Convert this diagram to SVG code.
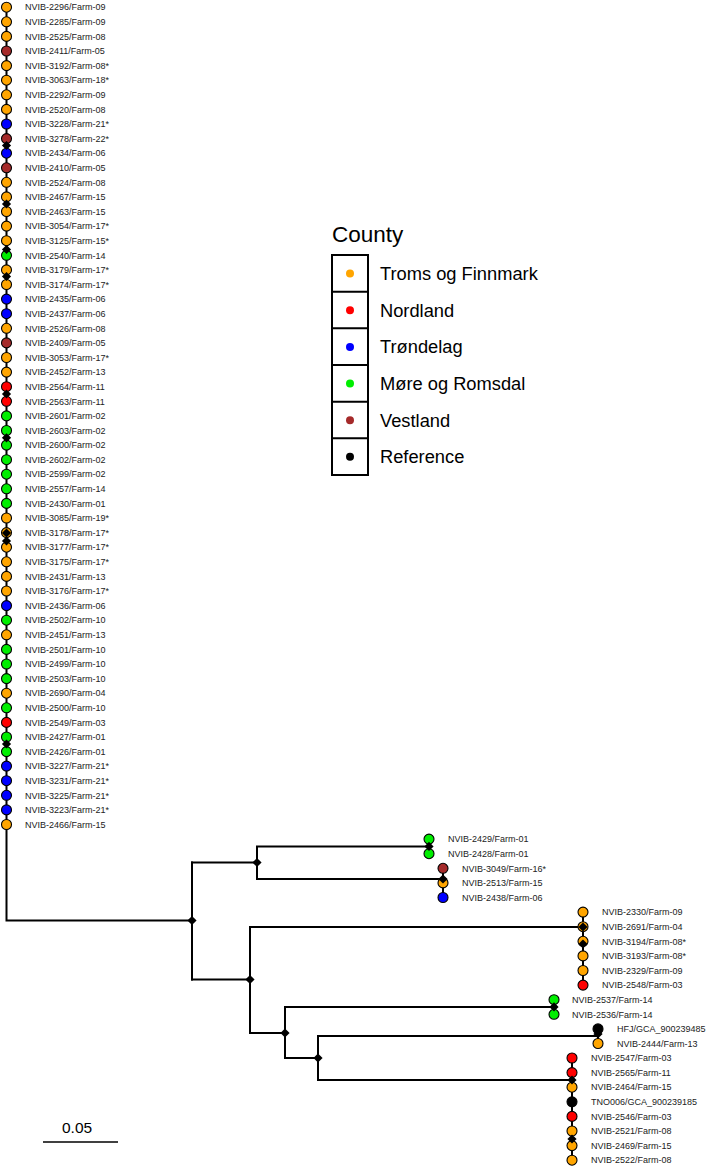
<svg xmlns="http://www.w3.org/2000/svg" xmlns:xlink="http://www.w3.org/1999/xlink" width="709" height="1167" viewBox="0 0 709 1167">
<style>
.br{stroke:#000;stroke-width:2;fill:none;stroke-linecap:square}
.lf{stroke:#000;stroke-width:1.1}
.o{fill:#FFA500}.r{fill:#FF0000}.b{fill:#0000FF}.g{fill:#00EE00}.v{fill:#A52A2A}.k{fill:#000}
.t{font-family:"Liberation Sans",Arial,sans-serif;font-size:9px;fill:#222}
.lg{font-family:"Liberation Sans",Arial,sans-serif;font-size:18.3px;fill:#000}
.ttl{font-family:"Liberation Sans",Arial,sans-serif;font-size:22.5px;fill:#000}
.dm{fill:#000}
</style>
<defs>
<path id="dm" d="M0,-4.6L4.6,0L0,4.6L-4.6,0Z"/>
</defs>
<g id="connectors">
<path class="br" d="M6.5,7.2V920.5H192"/>
<path class="br" d="M192,862.5V979.5"/>
<path class="br" d="M192,862.5H257M257,846.4V879H443M257,846.4H429"/>
<path class="br" d="M192,979.5H250M250,927V1033H285M250,927H583"/>
<path class="br" d="M285,1006.9V1058H318M285,1006.9H554"/>
<path class="br" d="M318,1036V1080H572M318,1036H598"/>
<path class="br" d="M429,839.1V853.7M443,868.3V897.5M583,912.1V985.1M554,999.7V1014.3M598,1028.9V1043.5M572,1058V1160.2"/>
</g>
<g id="internal-nodes">
<use xlink:href="#dm" x="192" y="920.5"/>
<use xlink:href="#dm" x="257" y="862.5"/>
<use xlink:href="#dm" x="250" y="979.5"/>
<use xlink:href="#dm" x="285" y="1033"/>
<use xlink:href="#dm" x="318" y="1058"/>
</g>
<g id="leaves-left">
<g id="n0"><circle class="lf o" cx="6.5" cy="7.2" r="5"/><text class="t" x="25" y="10.4">NVIB-2296/Farm-09</text></g>
<g id="n1"><circle class="lf o" cx="6.5" cy="21.8" r="5"/><text class="t" x="25" y="25">NVIB-2285/Farm-09</text></g>
<g id="n2"><circle class="lf o" cx="6.5" cy="36.4" r="5"/><text class="t" x="25" y="39.6">NVIB-2525/Farm-08</text></g>
<g id="n3"><circle class="lf v" cx="6.5" cy="51" r="5"/><text class="t" x="25" y="54.2">NVIB-2411/Farm-05</text></g>
<g id="n4"><circle class="lf o" cx="6.5" cy="65.6" r="5"/><text class="t" x="25" y="68.8">NVIB-3192/Farm-08*</text></g>
<g id="n5"><circle class="lf o" cx="6.5" cy="80.2" r="5"/><text class="t" x="25" y="83.4">NVIB-3063/Farm-18*</text></g>
<g id="n6"><circle class="lf o" cx="6.5" cy="94.8" r="5"/><text class="t" x="25" y="98">NVIB-2292/Farm-09</text></g>
<g id="n7"><circle class="lf o" cx="6.5" cy="109.4" r="5"/><text class="t" x="25" y="112.6">NVIB-2520/Farm-08</text></g>
<g id="n8"><circle class="lf b" cx="6.5" cy="124" r="5"/><text class="t" x="25" y="127.2">NVIB-3228/Farm-21*</text></g>
<g id="n9"><circle class="lf v" cx="6.5" cy="138.6" r="5"/><text class="t" x="25" y="141.8">NVIB-3278/Farm-22*</text></g>
<g id="n10"><circle class="lf b" cx="6.5" cy="153.2" r="5"/><text class="t" x="25" y="156.4">NVIB-2434/Farm-06</text></g>
<g id="n11"><circle class="lf v" cx="6.5" cy="167.8" r="5"/><text class="t" x="25" y="171">NVIB-2410/Farm-05</text></g>
<g id="n12"><circle class="lf o" cx="6.5" cy="182.3" r="5"/><text class="t" x="25" y="185.5">NVIB-2524/Farm-08</text></g>
<g id="n13"><circle class="lf o" cx="6.5" cy="196.9" r="5"/><text class="t" x="25" y="200.1">NVIB-2467/Farm-15</text></g>
<g id="n14"><circle class="lf o" cx="6.5" cy="211.5" r="5"/><text class="t" x="25" y="214.7">NVIB-2463/Farm-15</text></g>
<g id="n15"><circle class="lf o" cx="6.5" cy="226.1" r="5"/><text class="t" x="25" y="229.3">NVIB-3054/Farm-17*</text></g>
<g id="n16"><circle class="lf o" cx="6.5" cy="240.7" r="5"/><text class="t" x="25" y="243.9">NVIB-3125/Farm-15*</text></g>
<g id="n17"><circle class="lf g" cx="6.5" cy="255.3" r="5"/><text class="t" x="25" y="258.5">NVIB-2540/Farm-14</text></g>
<g id="n18"><circle class="lf o" cx="6.5" cy="269.9" r="5"/><text class="t" x="25" y="273.1">NVIB-3179/Farm-17*</text></g>
<g id="n19"><circle class="lf o" cx="6.5" cy="284.5" r="5"/><text class="t" x="25" y="287.7">NVIB-3174/Farm-17*</text></g>
<g id="n20"><circle class="lf b" cx="6.5" cy="299.1" r="5"/><text class="t" x="25" y="302.3">NVIB-2435/Farm-06</text></g>
<g id="n21"><circle class="lf b" cx="6.5" cy="313.7" r="5"/><text class="t" x="25" y="316.9">NVIB-2437/Farm-06</text></g>
<g id="n22"><circle class="lf o" cx="6.5" cy="328.3" r="5"/><text class="t" x="25" y="331.5">NVIB-2526/Farm-08</text></g>
<g id="n23"><circle class="lf v" cx="6.5" cy="342.9" r="5"/><text class="t" x="25" y="346.1">NVIB-2409/Farm-05</text></g>
<g id="n24"><circle class="lf o" cx="6.5" cy="357.5" r="5"/><text class="t" x="25" y="360.7">NVIB-3053/Farm-17*</text></g>
<g id="n25"><circle class="lf o" cx="6.5" cy="372.1" r="5"/><text class="t" x="25" y="375.3">NVIB-2452/Farm-13</text></g>
<g id="n26"><circle class="lf r" cx="6.5" cy="386.7" r="5"/><text class="t" x="25" y="389.9">NVIB-2564/Farm-11</text></g>
<g id="n27"><circle class="lf r" cx="6.5" cy="401.3" r="5"/><text class="t" x="25" y="404.5">NVIB-2563/Farm-11</text></g>
<g id="n28"><circle class="lf g" cx="6.5" cy="415.9" r="5"/><text class="t" x="25" y="419.1">NVIB-2601/Farm-02</text></g>
<g id="n29"><circle class="lf g" cx="6.5" cy="430.5" r="5"/><text class="t" x="25" y="433.7">NVIB-2603/Farm-02</text></g>
<g id="n30"><circle class="lf g" cx="6.5" cy="445.1" r="5"/><text class="t" x="25" y="448.3">NVIB-2600/Farm-02</text></g>
<g id="n31"><circle class="lf g" cx="6.5" cy="459.7" r="5"/><text class="t" x="25" y="462.9">NVIB-2602/Farm-02</text></g>
<g id="n32"><circle class="lf g" cx="6.5" cy="474.2" r="5"/><text class="t" x="25" y="477.4">NVIB-2599/Farm-02</text></g>
<g id="n33"><circle class="lf g" cx="6.5" cy="488.8" r="5"/><text class="t" x="25" y="492">NVIB-2557/Farm-14</text></g>
<g id="n34"><circle class="lf g" cx="6.5" cy="503.4" r="5"/><text class="t" x="25" y="506.6">NVIB-2430/Farm-01</text></g>
<g id="n35"><circle class="lf o" cx="6.5" cy="518" r="5"/><text class="t" x="25" y="521.2">NVIB-3085/Farm-19*</text></g>
<g id="n36"><circle class="lf o" cx="6.5" cy="532.6" r="5"/><text class="t" x="25" y="535.8">NVIB-3178/Farm-17*</text></g>
<g id="n37"><circle class="lf o" cx="6.5" cy="547.2" r="5"/><text class="t" x="25" y="550.4">NVIB-3177/Farm-17*</text></g>
<g id="n38"><circle class="lf o" cx="6.5" cy="561.8" r="5"/><text class="t" x="25" y="565">NVIB-3175/Farm-17*</text></g>
<g id="n39"><circle class="lf o" cx="6.5" cy="576.4" r="5"/><text class="t" x="25" y="579.6">NVIB-2431/Farm-13</text></g>
<g id="n40"><circle class="lf o" cx="6.5" cy="591" r="5"/><text class="t" x="25" y="594.2">NVIB-3176/Farm-17*</text></g>
<g id="n41"><circle class="lf b" cx="6.5" cy="605.6" r="5"/><text class="t" x="25" y="608.8">NVIB-2436/Farm-06</text></g>
<g id="n42"><circle class="lf g" cx="6.5" cy="620.2" r="5"/><text class="t" x="25" y="623.4">NVIB-2502/Farm-10</text></g>
<g id="n43"><circle class="lf o" cx="6.5" cy="634.8" r="5"/><text class="t" x="25" y="638">NVIB-2451/Farm-13</text></g>
<g id="n44"><circle class="lf g" cx="6.5" cy="649.4" r="5"/><text class="t" x="25" y="652.6">NVIB-2501/Farm-10</text></g>
<g id="n45"><circle class="lf g" cx="6.5" cy="664" r="5"/><text class="t" x="25" y="667.2">NVIB-2499/Farm-10</text></g>
<g id="n46"><circle class="lf g" cx="6.5" cy="678.6" r="5"/><text class="t" x="25" y="681.8">NVIB-2503/Farm-10</text></g>
<g id="n47"><circle class="lf o" cx="6.5" cy="693.2" r="5"/><text class="t" x="25" y="696.4">NVIB-2690/Farm-04</text></g>
<g id="n48"><circle class="lf g" cx="6.5" cy="707.8" r="5"/><text class="t" x="25" y="711">NVIB-2500/Farm-10</text></g>
<g id="n49"><circle class="lf r" cx="6.5" cy="722.4" r="5"/><text class="t" x="25" y="725.6">NVIB-2549/Farm-03</text></g>
<g id="n50"><circle class="lf g" cx="6.5" cy="737" r="5"/><text class="t" x="25" y="740.2">NVIB-2427/Farm-01</text></g>
<g id="n51"><circle class="lf g" cx="6.5" cy="751.6" r="5"/><text class="t" x="25" y="754.8">NVIB-2426/Farm-01</text></g>
<g id="n52"><circle class="lf b" cx="6.5" cy="766.1" r="5"/><text class="t" x="25" y="769.3">NVIB-3227/Farm-21*</text></g>
<g id="n53"><circle class="lf b" cx="6.5" cy="780.7" r="5"/><text class="t" x="25" y="783.9">NVIB-3231/Farm-21*</text></g>
<g id="n54"><circle class="lf b" cx="6.5" cy="795.3" r="5"/><text class="t" x="25" y="798.5">NVIB-3225/Farm-21*</text></g>
<g id="n55"><circle class="lf b" cx="6.5" cy="809.9" r="5"/><text class="t" x="25" y="813.1">NVIB-3223/Farm-21*</text></g>
<g id="n56"><circle class="lf o" cx="6.5" cy="824.5" r="5"/><text class="t" x="25" y="827.7">NVIB-2466/Farm-15</text></g>
</g>
<g id="leaves-right">
<g id="n57"><circle class="lf g" cx="429" cy="839.1" r="5"/><text class="t" x="448" y="842.3">NVIB-2429/Farm-01</text></g>
<g id="n58"><circle class="lf g" cx="429" cy="853.7" r="5"/><text class="t" x="448" y="856.9">NVIB-2428/Farm-01</text></g>
<g id="n59"><circle class="lf v" cx="443" cy="868.3" r="5"/><text class="t" x="462" y="871.5">NVIB-3049/Farm-16*</text></g>
<g id="n60"><circle class="lf o" cx="443" cy="882.9" r="5"/><text class="t" x="462" y="886.1">NVIB-2513/Farm-15</text></g>
<g id="n61"><circle class="lf b" cx="443" cy="897.5" r="5"/><text class="t" x="462" y="900.7">NVIB-2438/Farm-06</text></g>
<g id="n62"><circle class="lf o" cx="583" cy="912.1" r="5"/><text class="t" x="602" y="915.3">NVIB-2330/Farm-09</text></g>
<g id="n63"><circle class="lf o" cx="583" cy="926.7" r="5"/><text class="t" x="602" y="929.9">NVIB-2691/Farm-04</text></g>
<g id="n64"><circle class="lf o" cx="583" cy="941.3" r="5"/><text class="t" x="602" y="944.5">NVIB-3194/Farm-08*</text></g>
<g id="n65"><circle class="lf o" cx="583" cy="955.9" r="5"/><text class="t" x="602" y="959.1">NVIB-3193/Farm-08*</text></g>
<g id="n66"><circle class="lf o" cx="583" cy="970.5" r="5"/><text class="t" x="602" y="973.7">NVIB-2329/Farm-09</text></g>
<g id="n67"><circle class="lf r" cx="583" cy="985.1" r="5"/><text class="t" x="602" y="988.3">NVIB-2548/Farm-03</text></g>
<g id="n68"><circle class="lf g" cx="554" cy="999.7" r="5"/><text class="t" x="572" y="1002.9">NVIB-2537/Farm-14</text></g>
<g id="n69"><circle class="lf g" cx="554" cy="1014.3" r="5"/><text class="t" x="572" y="1017.5">NVIB-2536/Farm-14</text></g>
<g id="n70"><circle class="lf k" cx="598" cy="1028.9" r="5"/><text class="t" x="617" y="1032.1">HFJ/GCA_900239485</text></g>
<g id="n71"><circle class="lf o" cx="598" cy="1043.5" r="5"/><text class="t" x="617" y="1046.7">NVIB-2444/Farm-13</text></g>
<g id="n72"><circle class="lf r" cx="572" cy="1058" r="5"/><text class="t" x="591" y="1061.2">NVIB-2547/Farm-03</text></g>
<g id="n73"><circle class="lf r" cx="572" cy="1072.6" r="5"/><text class="t" x="591" y="1075.8">NVIB-2565/Farm-11</text></g>
<g id="n74"><circle class="lf o" cx="572" cy="1087.2" r="5"/><text class="t" x="591" y="1090.4">NVIB-2464/Farm-15</text></g>
<g id="n75"><circle class="lf k" cx="572" cy="1101.8" r="5"/><text class="t" x="591" y="1105">TNO006/GCA_900239185</text></g>
<g id="n76"><circle class="lf r" cx="572" cy="1116.4" r="5"/><text class="t" x="591" y="1119.6">NVIB-2546/Farm-03</text></g>
<g id="n77"><circle class="lf o" cx="572" cy="1131" r="5"/><text class="t" x="591" y="1134.2">NVIB-2521/Farm-08</text></g>
<g id="n78"><circle class="lf o" cx="572" cy="1145.6" r="5"/><text class="t" x="591" y="1148.8">NVIB-2469/Farm-15</text></g>
<g id="n79"><circle class="lf o" cx="572" cy="1160.2" r="5"/><text class="t" x="591" y="1163.4">NVIB-2522/Farm-08</text></g>
</g>
<g id="collapsed-nodes">
<use xlink:href="#dm" x="6.5" y="145.5"/>
<use xlink:href="#dm" x="6.5" y="204"/>
<use xlink:href="#dm" x="6.5" y="249.5"/>
<use xlink:href="#dm" x="6.5" y="276.5"/>
<use xlink:href="#dm" x="6.5" y="394"/>
<use xlink:href="#dm" x="6.5" y="437.8"/>
<use xlink:href="#dm" x="6.5" y="533"/>
<use xlink:href="#dm" x="6.5" y="541"/>
<use xlink:href="#dm" x="6.5" y="744"/>
<use xlink:href="#dm" x="429" y="846.4"/>
<use xlink:href="#dm" x="443" y="879"/>
<use xlink:href="#dm" x="583" y="927"/>
<use xlink:href="#dm" x="583" y="944"/>
<use xlink:href="#dm" x="554" y="1006.9"/>
<use xlink:href="#dm" x="598" y="1034"/>
<use xlink:href="#dm" x="572" y="1080"/>
<use xlink:href="#dm" x="572" y="1139"/>
</g>
<g id="legend">
<text class="ttl" x="332" y="241.7">County</text>
<rect x="332" y="255" width="36" height="220" fill="none" stroke="#000" stroke-width="2"/>
<path d="M332,291.7H368M332,328.3H368M332,365H368M332,401.7H368M332,438.3H368" stroke="#000" stroke-width="2"/>
<g id="lg-troms"><circle class="o" cx="350" cy="273.6" r="4"/><text class="lg" x="380" y="280">Troms og Finnmark</text></g>
<g id="lg-nordland"><circle class="r" cx="350" cy="310.2" r="4"/><text class="lg" x="380" y="316.6">Nordland</text></g>
<g id="lg-trondelag"><circle class="b" cx="350" cy="346.9" r="4"/><text class="lg" x="380" y="353.3">Trøndelag</text></g>
<g id="lg-more"><circle class="g" cx="350" cy="383.5" r="4"/><text class="lg" x="380" y="389.9">Møre og Romsdal</text></g>
<g id="lg-vestland"><circle class="v" cx="350" cy="420.2" r="4"/><text class="lg" x="380" y="426.6">Vestland</text></g>
<g id="lg-reference"><circle class="k" cx="350" cy="456.8" r="4"/><text class="lg" x="380" y="463.2">Reference</text></g>
</g>
<g id="scalebar">
<path d="M43,1142H118" stroke="#000" stroke-width="1.5"/>
<text x="62" y="1133" font-family="Liberation Sans,Arial,sans-serif" font-size="15.5" fill="#000">0.05</text>
</g>
</svg>
